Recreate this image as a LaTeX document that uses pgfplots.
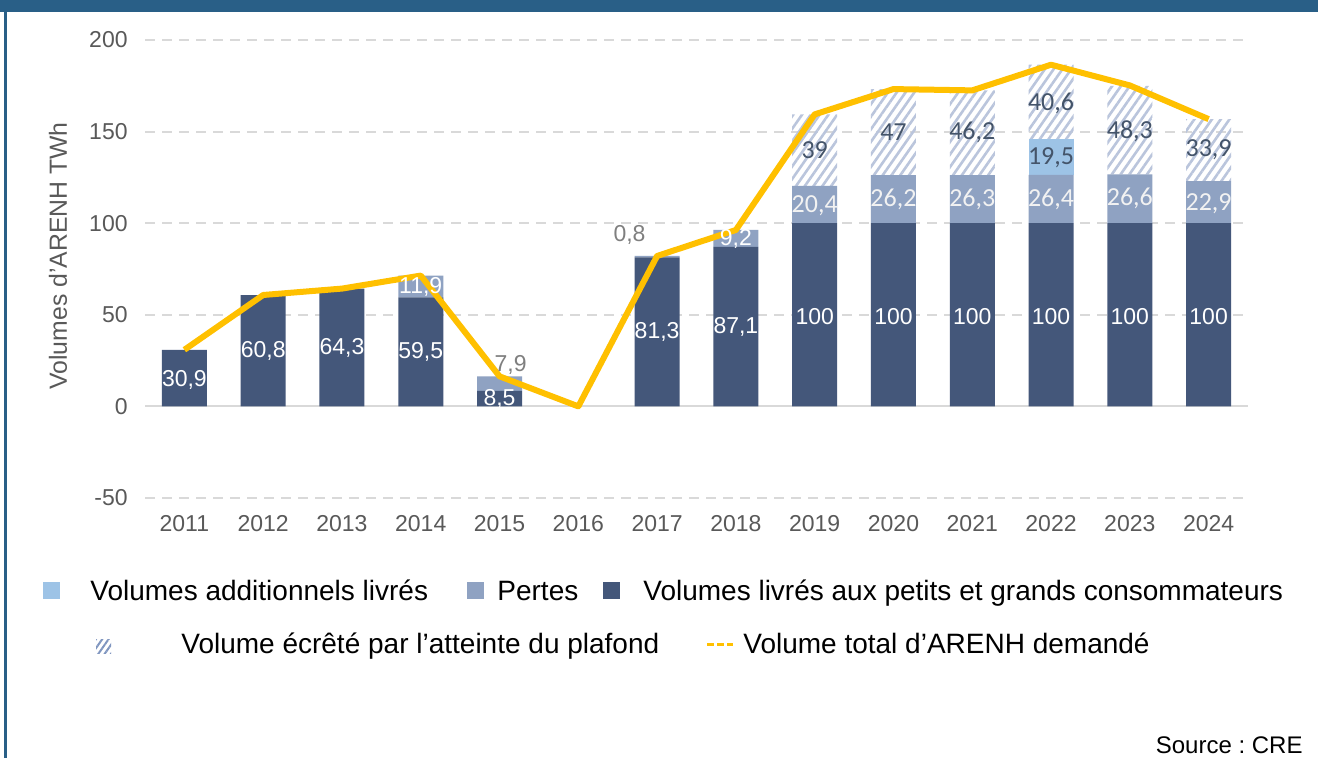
\documentclass[border=0pt]{standalone}
\usepackage{fontspec}
\setmainfont{Liberation Sans}
\newfontfamily\calibri{Carlito}
\usepackage{pgfplots}
\usepackage{pgfplotstable}
\pgfplotsset{compat=1.18}
\usetikzlibrary{patterns.meta}
\frenchspacing

\definecolor{darkbar}{HTML}{44577A}
\definecolor{pertes}{HTML}{8FA2C2}
\definecolor{addit}{HTML}{9DC3E6}
\definecolor{hatchcol}{HTML}{BAC5DC}
\definecolor{gold}{HTML}{FFC000}
\definecolor{gridcol}{HTML}{D9D9D9}
\definecolor{tickcol}{HTML}{595959}
\definecolor{framecol}{HTML}{295F87}
\definecolor{labdark}{HTML}{44546A}
\definecolor{labgray}{HTML}{7F7F7F}
\definecolor{iconcol}{HTML}{8096C0}

\pgfplotstableread{
x y lab
0 14.5 30,9
1 30.4 60,8
2 32.15 64,3
3 29.75 59,5
4 4.25 8,5
6 40.65 81,3
7 43.55 87,1
8 49 100
9 49 100
10 49 100
11 49 100
12 49 100
13 49 100
3 65.45 11,9
7 91.2 9,2
}\labwhiteA

\pgfplotstableread{
x y lab
8 109.6 20,4
9 113.1 26,2
10 113.15 26,3
11 113.2 26,4
12 113.3 26,6
13 110.8 22,9
}\labwhiteC

\pgfplotstableread{
x y lab
8 139.9 39
9 149.7 47
10 149.4 46,2
11 165.6 40,6
12 150.2 48,3
13 139.85 33,9
11 135.6 19,5
}\labdarkC

\pgfplotstableread{
x y lab
4.14 22.4 7,9
5.65 93.4 0,8
}\labgrayA

\pgfplotsset{
  myaxis/.style={scale only axis, width=551.5pt, height=229pt,
    at={(72.5pt,130pt)}, anchor=south west,
    xmin=-0.5, xmax=13.5, ymin=-50, ymax=200, clip=false},
  labstyle/.style={draw=none, mark=none, nodes near coords,
    point meta=explicit symbolic, nodes near coords align=center,
    every node near coord/.append style={inner sep=0pt}},
}

\begin{document}
\begin{tikzpicture}
\useasboundingbox (0,0) rectangle (659pt,379pt);
\fill[white] (0,0) rectangle (659pt,379pt);
\fill[framecol] (0,373pt) rectangle (659pt,379pt);
\fill[framecol] (2pt,0) rectangle (3.4pt,373pt);

\begin{axis}[myaxis,
  ybar stacked, bar width=22.5pt,
  axis line style={draw=none}, tick style={draw=none},
  ytick={-50,50,100,150,200},
  extra y ticks={0},
  extra y tick style={major grid style={solid, gridcol, line width=1pt}},
  ymajorgrids,
  major grid style={gridcol, line width=1pt, dash pattern=on 5pt off 3.5pt},
  xtick={0,...,13},
  xticklabels={2011,2012,2013,2014,2015,2016,2017,2018,2019,2020,2021,2022,2023,2024},
  /pgf/number format/assume math mode=true,
  yticklabel style={font=\fontsize{11.5}{13}\selectfont, text=tickcol, inner sep=0pt, anchor=east, xshift=-8.5pt},
  xticklabel style={font=\fontsize{11.5}{13}\selectfont, text=tickcol, inner sep=0pt, anchor=north, yshift=-8.5pt},
]
\addplot[draw=none, fill=darkbar] coordinates {(0,30.9)(1,60.8)(2,64.3)(3,59.5)(4,8.5)(5,0)(6,81.3)(7,87.1)(8,100)(9,100)(10,100)(11,100)(12,100)(13,100)};
\addplot[draw=none, fill=pertes] coordinates {(0,0)(1,0)(2,0)(3,11.9)(4,7.9)(5,0)(6,0.8)(7,9.2)(8,20.4)(9,26.2)(10,26.3)(11,26.4)(12,26.6)(13,22.9)};
\addplot[draw=none, fill=addit] coordinates {(0,0)(1,0)(2,0)(3,0)(4,0)(5,0)(6,0)(7,0)(8,0)(9,0)(10,0)(11,19.5)(12,0)(13,0)};
\addplot[draw=none, pattern={Lines[angle=55,distance=3.6pt,line width=1.3pt]}, pattern color=hatchcol] coordinates {(0,0)(1,0)(2,0)(3,0)(4,0)(5,0)(6,0)(7,0)(8,39)(9,47)(10,46.2)(11,40.6)(12,48.3)(13,33.9)};
\end{axis}

\begin{axis}[myaxis, hide axis]
\addplot[color=gold, line width=3pt, line join=round, mark=none] coordinates {(0,30.9)(1,60.8)(2,64.3)(3,71.4)(4,16.4)(5,0)(6,82.1)(7,96.3)(8,159.4)(9,173.2)(10,172.5)(11,186.5)(12,175.2)(13,156.8)};
\addplot[labstyle, every node near coord/.append style={font=\fontsize{11.5}{12}\selectfont, text=white}] table[x=x,y=y,meta=lab] {\labwhiteA};
\addplot[labstyle, every node near coord/.append style={font=\calibri\fontsize{13}{14}\selectfont, text=white!95!black}] table[x=x,y=y,meta=lab] {\labwhiteC};
\addplot[labstyle, every node near coord/.append style={font=\calibri\fontsize{13}{14}\selectfont, text=labdark}] table[x=x,y=y,meta=lab] {\labdarkC};
\addplot[labstyle, every node near coord/.append style={font=\fontsize{11.5}{12}\selectfont, text=labgray}] table[x=x,y=y,meta=lab] {\labgrayA};
\end{axis}

% y label
\node[rotate=90, text=tickcol, font=\fontsize{12.4}{14}\selectfont, inner sep=0pt] at (29pt,251pt) {Volumes d’ARENH TWh};

% legend row 1
\fill[addit] (21.5pt,79.25pt) rectangle (30pt,87.75pt);
\node[anchor=base west, inner sep=0pt, font=\fontsize{14}{16}\selectfont] at (45pt,78.5pt) {Volumes additionnels livrés};
\fill[pertes] (233.5pt,79.25pt) rectangle (242pt,87.75pt);
\node[anchor=base west, inner sep=0pt, font=\fontsize{14}{16}\selectfont] at (248.5pt,78.5pt) {Pertes};
\fill[darkbar] (301.5pt,79.25pt) rectangle (310pt,87.75pt);
\node[anchor=base west, inner sep=0pt, font=\fontsize{14}{16}\selectfont] at (321.5pt,78.5pt) {Volumes livrés aux petits et grands consommateurs};

% legend row 2
\fill[pattern={Lines[angle=55,distance=2.6pt,line width=1pt]}, pattern color=iconcol] (48pt,52pt) rectangle (55.5pt,59pt);
\node[anchor=base west, inner sep=0pt, font=\fontsize{14}{16}\selectfont] at (90.5pt,52pt) {Volume écrêté par l’atteinte du plafond};
\draw[gold, line width=1.5pt, dash pattern=on 3.5pt off 1.5pt] (353.5pt,56.5pt) -- (366.5pt,56.5pt);
\node[anchor=base west, inner sep=0pt, font=\fontsize{14}{16}\selectfont] at (371.5pt,52pt) {Volume total d’ARENH demandé};

% source
\node[anchor=base east, inner sep=0pt, font=\fontsize{12}{14}\selectfont] at (651.5pt,2.3pt) {Source : CRE};
\end{tikzpicture}
\end{document}
